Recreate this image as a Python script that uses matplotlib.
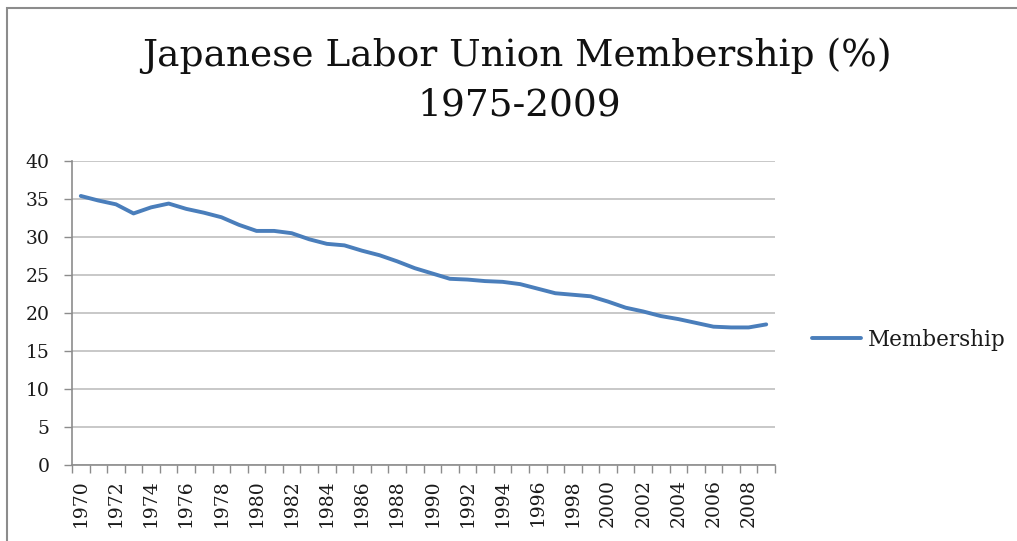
import numpy as np
import matplotlib
matplotlib.use("Agg")
import matplotlib.pyplot as plt
from matplotlib.patches import Rectangle

years = list(range(1970, 2010))
membership = [35.4, 34.8, 34.3, 33.1, 33.9, 34.4, 33.7, 33.2, 32.6, 31.6,
              30.8, 30.8, 30.5, 29.7, 29.1, 28.9, 28.2, 27.6, 26.8, 25.9,
              25.2, 24.5, 24.4, 24.2, 24.1, 23.8, 23.2, 22.6, 22.4, 22.2,
              21.5, 20.7, 20.2, 19.6, 19.2, 18.7, 18.2, 18.1, 18.1, 18.5]
yticks = [0, 5, 10, 15, 20, 25, 30, 35, 40]
title_line1 = "Japanese Labor Union Membership (%)"
title_line2 = "1975-2009"
series_name = "Membership"

plt.rcParams['font.family'] = ['DejaVu Serif']

W, H = 1017, 541
fig = plt.figure(figsize=(W / 100, H / 100), dpi=100)
fig.patch.set_facecolor('white')

# chart border (extends beyond right/bottom)
fig.add_artist(Rectangle((7 / W, -0.1), 1.2, 1 - 8 / H + 0.1, transform=fig.transFigure,
                         fill=False, edgecolor='#8c8c8c', linewidth=1.5))

ax = fig.add_axes([72 / W, 1 - 465 / H, (775 - 72) / W, (465 - 161) / H])
x = np.arange(len(years))
line, = ax.plot(x, membership, color='#4A7EBB', linewidth=2.8, solid_capstyle='round',
                label=series_name)

ax.set_xlim(-0.5, len(years) - 0.5)
ax.set_ylim(0, 40)
ax.set_yticks(yticks)
ax.set_yticklabels([str(v) for v in yticks], fontsize=13.5, color='#1a1a1a')
ax.yaxis.grid(True, color='#bfbfbf', linewidth=1.2)
ax.set_axisbelow(True)

major = x[::2]
ax.set_xticks(major)
ax.set_xticklabels([str(years[i]) for i in major], rotation=90, fontsize=13.5, color='#1a1a1a')
ax.set_xticks(np.arange(-0.5, len(years), 1), minor=True)
ax.tick_params(axis='x', which='major', length=0, pad=10)
ax.tick_params(axis='x', which='minor', length=6, color='#8c8c8c', width=1)
ax.tick_params(axis='y', length=6, color='#8c8c8c', width=1, pad=10)

for s in ['top', 'right']:
    ax.spines[s].set_visible(False)
for s in ['left', 'bottom']:
    ax.spines[s].set_color('#8c8c8c')
    ax.spines[s].set_linewidth(1.2)

fig.text(517 / W, 1 - 56 / H, title_line1, ha='center', va='center', fontsize=27, color='#111111')
fig.text(519 / W, 1 - 106 / H, title_line2, ha='center', va='center', fontsize=27, color='#111111')

leg = fig.legend(handles=[line], loc='center left', bbox_to_anchor=(803 / W, 1 - 340 / H),
                 frameon=False, fontsize=15.5, handlelength=2.3, handletextpad=0.3,
                 borderaxespad=0)
for t in leg.get_texts():
    t.set_color('#1a1a1a')

fig.savefig('out.png', dpi=100)
